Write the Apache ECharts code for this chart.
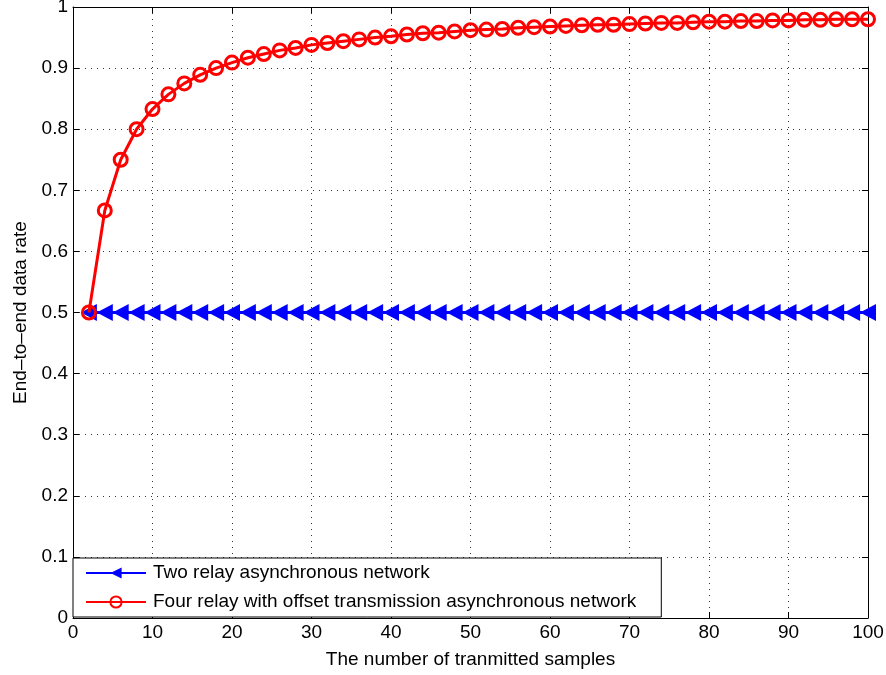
<!DOCTYPE html>
<html>
<head>
<meta charset="utf-8">
<script src="https://cdn.jsdelivr.net/npm/echarts@6/dist/echarts.min.js"></script>
<style>html,body{margin:0;padding:0;background:#fff}#c{width:886px;height:675px}</style>
</head>
<body>
<div id="c"></div>
<script>
var samples = [2,4,6,8,10,12,14,16,18,20,22,24,26,28,30,32,34,36,38,40,42,44,46,48,50,52,54,56,58,60,62,64,66,68,70,72,74,76,78,80,82,84,86,88,90,92,94,96,98,100];
var twoRelay = [0.5,0.5,0.5,0.5,0.5,0.5,0.5,0.5,0.5,0.5,0.5,0.5,0.5,0.5,0.5,0.5,0.5,0.5,0.5,0.5,0.5,0.5,0.5,0.5,0.5,0.5,0.5,0.5,0.5,0.5,0.5,0.5,0.5,0.5,0.5,0.5,0.5,0.5,0.5,0.5,0.5,0.5,0.5,0.5,0.5,0.5,0.5,0.5,0.5,0.5];
var fourRelay = [0.5,0.667,0.75,0.8,0.833,0.857,0.875,0.889,0.9,0.909,0.917,0.923,0.929,0.933,0.938,0.941,0.944,0.947,0.95,0.952,0.955,0.957,0.958,0.96,0.962,0.963,0.964,0.966,0.967,0.968,0.969,0.97,0.971,0.971,0.972,0.973,0.974,0.974,0.975,0.976,0.976,0.977,0.977,0.978,0.978,0.979,0.979,0.98,0.98,0.98];
var seriesNames = ['Two relay asynchronous network','Four relay with offset transmission asynchronous network'];
var xTicks = [0,10,20,30,40,50,60,70,80,90,100];
var yTicks = [0,0.1,0.2,0.3,0.4,0.5,0.6,0.7,0.8,0.9,1];

function pairs(xs, ys){ return xs.map(function(x,i){ return [x, ys[i]]; }); }

var FONT = '"Liberation Sans", Arial, sans-serif';
var chart = echarts.init(document.getElementById('c'), null, {renderer:'canvas'});
var gridLine = {show:true, lineStyle:{color:'#333', type:[1,5], width:1}};
var axisBase = {
  axisLine:{show:true, onZero:false, lineStyle:{color:'#000', width:1}},
  axisTick:{show:true, inside:true, length:6, lineStyle:{color:'#000'}},
};
chart.setOption({
  animation:false,
  backgroundColor:'#fff',
  textStyle:{fontFamily:FONT},
  grid:{left:73, right:18, top:7, bottom:57, containLabel:false, outerBoundsMode:'none'},
  xAxis:[
    Object.assign({type:'value', min:0, max:100, interval:10, position:'bottom',
      name:'The number of tranmitted samples', nameLocation:'middle', nameGap:32,
      nameTextStyle:{fontSize:19, color:'#000', fontFamily:FONT},
      axisLabel:{fontSize:19, color:'#000', margin:5, fontFamily:FONT},
      splitLine:gridLine}, axisBase),
    Object.assign({type:'value', min:0, max:100, interval:10, position:'top',
      axisLabel:{show:false}, splitLine:{show:false}}, axisBase)
  ],
  yAxis:[
    Object.assign({type:'value', min:0, max:1, interval:0.1, position:'left',
      name:'End\u2013to\u2013end data rate', nameLocation:'middle', nameGap:43, nameRotate:90,
      nameTextStyle:{fontSize:19, color:'#000', fontFamily:FONT},
      axisLabel:{fontSize:19, color:'#000', margin:5, fontFamily:FONT,
        formatter:function(v){ return String(Math.round(v*10)/10); }},
      splitLine:gridLine}, axisBase),
    Object.assign({type:'value', min:0, max:1, interval:0.1, position:'right',
      axisLabel:{show:false}, splitLine:{show:false}}, axisBase)
  ],
  legend:{
    orient:'vertical', left:73, top:558,
    data:seriesNames,
    itemWidth:60, itemHeight:14, itemGap:7,
    padding:[4, 25, 4, 12],
    borderColor:'#000', borderWidth:1, backgroundColor:'#fff',
    textStyle:{fontSize:19, color:'#000', fontFamily:FONT, padding:[0,0,0,2], lineHeight:22}
  },
  series:[
    {name:seriesNames[0], type:'line', data:pairs(samples, twoRelay),
      symbol:'triangle', symbolRotate:90, symbolSize:[17,16], showAllSymbol:true,
      lineStyle:{color:'#0000ff', width:3}, itemStyle:{color:'#0000ff'}, z:2},
    {name:seriesNames[1], type:'line', data:pairs(samples, fourRelay),
      symbol:'circle', symbolSize:13, showAllSymbol:true,
      lineStyle:{color:'#ff0000', width:3},
      itemStyle:{color:'rgba(255,0,0,0)', borderColor:'#ff0000', borderWidth:3}, z:3}
  ]
});
</script>
</body>
</html>
